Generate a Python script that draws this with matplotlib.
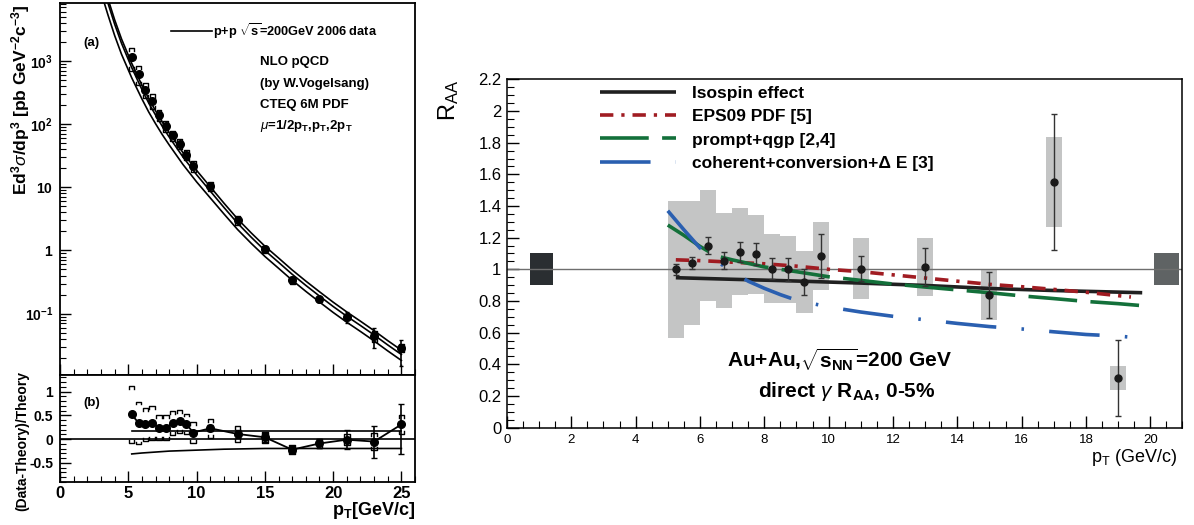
import matplotlib
matplotlib.use("Agg")
import matplotlib.pyplot as plt
import numpy as np
from matplotlib.ticker import MultipleLocator, FixedLocator, FixedFormatter, LogLocator, NullFormatter, FuncFormatter

plt.rcParams["font.family"] = ["Liberation Sans", "DejaVu Sans"]
plt.rcParams["mathtext.fontset"] = "custom"
plt.rcParams["mathtext.rm"] = "Liberation Sans"
plt.rcParams["mathtext.it"] = "Liberation Sans:italic"
plt.rcParams["mathtext.bf"] = "Liberation Sans:bold"

# ---------------- p+p cross section (left) ----------------
pp_pt = [5.25, 5.75, 6.25, 6.75, 7.25, 7.75, 8.25, 8.75, 9.25, 9.75, 11, 13, 15, 17, 19, 21, 23, 25]
pp_xsec = [1160, 625, 350, 233, 139, 94, 66.5, 49, 32.7, 21.5, 10.3, 3.0, 1.04, 0.34, 0.17, 0.089, 0.044, 0.029]
pp_ratio = [0.52, 0.34, 0.31, 0.34, 0.24, 0.24, 0.34, 0.38, 0.32, 0.14, 0.23, 0.11, 0.04, -0.22, -0.09, -0.01, -0.05, 0.31]
ratio_err_hi = [0.03, 0.03, 0.03, 0.03, 0.03, 0.03, 0.03, 0.03, 0.03, 0.04, 0.06, 0.08, 0.1, 0.08, 0.09, 0.2, 0.33, 0.42]
ratio_err_lo = [0.03, 0.03, 0.03, 0.03, 0.03, 0.03, 0.03, 0.03, 0.03, 0.04, 0.06, 0.08, 0.1, 0.08, 0.09, 0.2, 0.34, 0.63]
ratio_sys = [0.6, 0.45, 0.35, 0.355, 0.26, 0.26, 0.245, 0.24, 0.22, 0.22, 0.2, 0.165, 0.12, 0.1, 0.09, 0.12, 0.18, 0.2]

nlo_pt = [3.0, 3.5, 4.0, 4.5, 5.25, 6.0, 6.5, 7.0, 7.5, 8.0, 9.0, 10, 11, 12, 13, 14, 15,
          16, 17, 18, 19, 20, 21, 22, 23, 24, 25]
nlo_mid = [19000, 8300, 3800, 1900, 780, 350, 214, 138, 91, 62, 30.2, 15.8, 8.7, 4.8, 2.7, 1.62, 1.0,
           0.65, 0.42, 0.28, 0.19, 0.13, 0.091, 0.065, 0.046, 0.032, 0.0226]
nlo_hi_rel = [0.17] * 27
nlo_lo_rel = [-0.36, -0.35, -0.34, -0.33, -0.31, -0.29, -0.28, -0.27, -0.26, -0.25, -0.24, -0.23, -0.22,
              -0.21, -0.205, -0.2, -0.195, -0.195, -0.195, -0.195, -0.195, -0.195, -0.195, -0.195,
              -0.195, -0.195, -0.195]

# ---------------- Au+Au R_AA (right) ----------------
raa_pt = [5.25, 5.75, 6.25, 6.75, 7.25, 7.75, 8.25, 8.75, 9.25, 9.75, 11, 13, 15, 17, 19]
raa = [1.0, 1.04, 1.15, 1.055, 1.11, 1.095, 1.005, 1.0, 0.92, 1.085, 1.005, 1.015, 0.84, 1.55, 0.315]
raa_stat = [0.036, 0.04, 0.052, 0.053, 0.065, 0.069, 0.066, 0.073, 0.08, 0.14, 0.08, 0.12, 0.145, 0.43, 0.24]
raa_sys = [0.435, 0.39, 0.35, 0.30, 0.275, 0.25, 0.22, 0.21, 0.195, 0.215, 0.195, 0.185, 0.158, 0.285, 0.075]

iso_pt = [5.25, 7, 9, 11, 13, 15, 17, 19.75]
iso = [0.947, 0.937, 0.926, 0.913, 0.898, 0.879, 0.866, 0.852]
eps_pt = [5.25, 6, 7, 8, 9, 10, 11, 12, 13, 14, 15, 16, 17, 18, 19.4]
eps = [1.06, 1.055, 1.045, 1.035, 1.02, 1.0, 0.985, 0.965, 0.945, 0.925, 0.905, 0.89, 0.873, 0.855, 0.825]
qgp_pt = [5.0, 5.5, 6.0, 6.25, 6.6, 7, 8, 9, 10, 11, 12, 13, 14, 15, 16, 17, 18, 19, 20]
qgp = [1.28, 1.215, 1.145, 1.115, 1.08, 1.06, 1.015, 0.985, 0.953, 0.93, 0.907, 0.888, 0.87, 0.852,
       0.832, 0.815, 0.797, 0.783, 0.766]
coh_pt = [5.0, 5.5, 6.0, 6.5, 7.0, 7.5, 8.0, 8.5, 9.0, 10, 11, 12, 13, 14, 15, 16, 17, 18, 19, 20]
coh = [1.37, 1.25, 1.135, 1.055, 0.985, 0.925, 0.88, 0.84, 0.805, 0.762, 0.73, 0.703, 0.681, 0.658,
       0.638, 0.623, 0.605, 0.588, 0.578, 0.56]
norm_pt = [1.07, 20.5]
norm_width = [0.7, 0.78]
norm_err = [0.1, 0.1]
norm_colors = ["#2a2e31", "#5f6364"]


def brackets(x, y, w, leg):
    xs, ys = [], []
    for xi, yi, li in zip(x, y, leg):
        xs += [xi - w, xi - w, xi + w, xi + w, np.nan]
        ys += [yi + li, yi, yi, yi + li, np.nan]
    return xs, ys


fig = plt.figure(figsize=(11.94, 5.25), dpi=100)
ax_a = fig.add_axes([0.0503, 0.2857, 0.2973, 0.7078])
ax_b = fig.add_axes([0.0503, 0.0819, 0.2973, 0.2038])
ax_r = fig.add_axes([0.4246, 0.1857, 0.5657, 0.6629])

pt = np.array(pp_pt)
xs = np.array(pp_xsec)
r = np.array(pp_ratio)
rel = 1 + r
npt = np.array(nlo_pt)
mid = np.array(nlo_mid)

# ---- panel (a)
th_lines = []
for rr in [nlo_hi_rel, [0] * len(nlo_pt), nlo_lo_rel]:
    ln, = ax_a.plot(npt, mid * (1 + np.array(rr)), color="black", lw=1.2)
    th_lines.append(ln)
ax_a.errorbar(pt, xs, yerr=[xs * np.array(ratio_err_lo) / rel, xs * np.array(ratio_err_hi) / rel],
              fmt="o", color="black", ms=5.5, elinewidth=1.2, capsize=1.5, zorder=5)
sys_rel = np.array(ratio_sys) / rel
bx, by = brackets(pt, xs * (1 + sys_rel), 0.18, -xs * (1 + sys_rel) * 0.12)
ax_a.plot(bx, by, color="black", lw=1.0)
bx, by = brackets(pt, xs * (1 - sys_rel), 0.18, xs * (1 - sys_rel) * 0.12)
ax_a.plot(bx, by, color="black", lw=1.0)

ax_a.set_yscale("log")
ax_a.set_xlim(0, 26)
ax_a.set_ylim(0.0107, 8100)
ax_a.yaxis.set_major_locator(FixedLocator([0.1, 1, 10, 100, 1000]))
ax_a.yaxis.set_major_formatter(FixedFormatter([r"$\mathbf{10^{-1}}$", r"$\mathbf{1}$", r"$\mathbf{10}$",
                                               r"$\mathbf{10^{2}}$", r"$\mathbf{10^{3}}$"]))
ax_a.yaxis.set_minor_locator(LogLocator(base=10, subs=np.arange(2, 10)))
ax_a.yaxis.set_minor_formatter(NullFormatter())
ax_a.xaxis.set_major_locator(MultipleLocator(5))
ax_a.xaxis.set_minor_locator(MultipleLocator(1))
ax_a.tick_params(which="both", direction="in", top=False, right=False, labelbottom=False)
ax_a.tick_params(which="major", length=8, width=1, labelsize=10, pad=5)
ax_a.tick_params(which="minor", length=4, width=0.8)
ax_a.legend([th_lines[1]], [r"p+p $\sqrt{\mathbf{s}}$=200GeV 2006 data"], loc="center left",
            bbox_to_anchor=(0.313, 0.926), frameon=False, handlelength=3.2, handletextpad=0.1,
            borderpad=0, borderaxespad=0, prop={"weight": "bold", "size": 9.2})
ax_a.text(0.066, 0.893, "(a)", transform=ax_a.transAxes, fontsize=9.5, fontweight="bold", va="center")
for i, s in enumerate(["NLO pQCD", "(by W.Vogelsang)", "CTEQ 6M PDF",
                       r"$\mu$=1/2p$_{\mathbf{T}}$,p$_{\mathbf{T}}$,2p$_{\mathbf{T}}$"]):
    ax_a.text(0.563, 0.841 - 0.057 * i, s, transform=ax_a.transAxes, fontsize=9.5,
              fontweight="bold", va="center")
ax_a.text(-0.11, 0.996, r"Ed$^{\mathbf{3}}\sigma$/dp$^{\mathbf{3}}$ [pb GeV$^{\mathbf{-2}}$c$^{\mathbf{-3}}$]",
          transform=ax_a.transAxes, rotation=90, ha="center", va="top", fontsize=12.5, fontweight="bold")

# ---- panel (b)
ax_b.axhline(0, color="black", lw=1.2)
mb = npt >= 5.25
ax_b.plot(npt[mb], np.array(nlo_hi_rel)[mb], color="black", lw=1.2)
ax_b.plot(npt[mb], np.array(nlo_lo_rel)[mb], color="black", lw=1.2)
ax_b.plot(pt, r, color="black", lw=1.3)
ax_b.errorbar(pt, r, yerr=[ratio_err_lo, ratio_err_hi], fmt="o", color="black", ms=5.5,
              elinewidth=1.2, capsize=2.5, zorder=5)
bx, by = brackets(pt, r + np.array(ratio_sys), 0.2, [-0.06] * len(pt))
ax_b.plot(bx, by, color="black", lw=1.0)
bx, by = brackets(pt, r - np.array(ratio_sys), 0.2, [0.06] * len(pt))
ax_b.plot(bx, by, color="black", lw=1.0)
ax_b.set_xlim(0, 26)
ax_b.set_ylim(-0.9, 1.35)
ax_b.xaxis.set_major_locator(MultipleLocator(5))
ax_b.xaxis.set_minor_locator(MultipleLocator(1))
ax_b.yaxis.set_major_locator(FixedLocator([-0.5, 0, 0.5, 1]))
ax_b.yaxis.set_minor_locator(MultipleLocator(0.1))
ax_b.yaxis.set_major_formatter(FuncFormatter(lambda v, p: "%g" % v))
ax_b.tick_params(which="both", direction="in", top=False, right=False)
ax_b.tick_params(which="major", length=8, width=1)
ax_b.tick_params(which="minor", length=4, width=0.8)
ax_b.tick_params(axis="x", labelsize=12, pad=3)
ax_b.tick_params(axis="y", labelsize=10, pad=5)
for lab in ax_b.get_xticklabels() + ax_b.get_yticklabels():
    lab.set_fontweight("bold")
ax_b.text(0.066, 0.74, "(b)", transform=ax_b.transAxes, fontsize=9.5, fontweight="bold", va="center")
ax_b.text(-0.107, 0.38, "(Data-Theory)/Theory", transform=ax_b.transAxes, rotation=90,
          ha="center", va="center", fontsize=10, fontweight="bold")
ax_b.text(1.0, -0.165, r"p$_{\mathbf{T}}$[GeV/c]", transform=ax_b.transAxes, ha="right", va="top",
          fontsize=13, fontweight="bold")
for a in (ax_a, ax_b):
    for sp in a.spines.values():
        sp.set_linewidth(1.3)

# ---- right panel R_AA
rp = np.array(raa_pt)
rv = np.array(raa)
rs = np.array(raa_sys)
ax_r.bar(rp, 2 * rs, bottom=rv - rs, width=0.5, color="#c4c5c5", lw=0, zorder=1)
for xp, wd, er, c in zip(norm_pt, norm_width, norm_err, norm_colors):
    ax_r.bar(xp, 2 * er, bottom=1 - er, width=wd, color=c, lw=0, zorder=1)
ax_r.axhline(1, color="#6e6e6e", lw=1.0, zorder=2)
l_iso, = ax_r.plot(iso_pt, iso, color="#202020", lw=2.6, zorder=3, solid_capstyle="butt")
l_eps, = ax_r.plot(eps_pt, eps, color="#a01c22", lw=2.6, zorder=3, ls=(0, (3.7, 2.2, 0.9, 2.2)))
l_qgp, = ax_r.plot(qgp_pt, qgp, color="#13703a", lw=2.6, zorder=3, ls=(0, (13.5, 3.7)))
l_coh, = ax_r.plot(coh_pt, coh, color="#2a5fb0", lw=2.6, zorder=3, ls=(0, (14, 7, 0.7, 7)))
ax_r.errorbar(rp, rv, yerr=raa_stat, fmt="o", color="#1a1a1a", ms=5, elinewidth=1.0, capsize=2.5,
              capthick=1.0, ecolor="#333333", zorder=5)
ax_r.legend([l_iso, l_eps, l_qgp, l_coh],
            ["Isospin effect", "EPS09 PDF [5]", "prompt+qgp [2,4]", "coherent+conversion+\u0394 E [3]"],
            loc="upper left", bbox_to_anchor=(0.1377, 0.981), frameon=False, handlelength=4.37,
            handletextpad=0.92, labelspacing=0.46, borderpad=0, borderaxespad=0,
            prop={"weight": "bold", "size": 12.5})
ax_r.text(10.35, 0.38, r"Au+Au,$\sqrt{\mathbf{s}_{\mathbf{NN}}}$=200 GeV", ha="center", va="baseline",
          fontsize=15, fontweight="bold")
ax_r.text(10.57, 0.193, r"direct $\gamma$ R$_{\mathbf{AA}}$, 0-5%", ha="center", va="baseline",
          fontsize=15, fontweight="bold")
ax_r.set_xlim(0, 21)
ax_r.set_ylim(0, 2.2)
ax_r.xaxis.set_major_locator(MultipleLocator(2))
ax_r.xaxis.set_minor_locator(MultipleLocator(0.5))
ax_r.yaxis.set_major_locator(MultipleLocator(0.2))
ax_r.yaxis.set_minor_locator(MultipleLocator(0.05))
ax_r.yaxis.set_major_formatter(FuncFormatter(lambda v, p: "%g" % round(v, 2)))
ax_r.xaxis.set_major_formatter(FuncFormatter(lambda v, p: "%g" % round(v, 2)))
ax_r.tick_params(which="both", direction="in", top=False, right=False)
ax_r.tick_params(which="major", length=8.6, width=1)
ax_r.tick_params(which="minor", length=4.7, width=0.8)
ax_r.tick_params(axis="y", labelsize=12, pad=4)
ax_r.tick_params(axis="x", labelsize=9.5, pad=5)
for sp in ax_r.spines.values():
    sp.set_linewidth(1.1)
ax_r.text(-0.086, 1.0, r"R$_{\mathrm{AA}}$", transform=ax_r.transAxes, rotation=90, ha="center",
          va="top", fontsize=17)
ax_r.text(0.993, -0.056, r"p$_{\mathrm{T}}$ (GeV/c)", transform=ax_r.transAxes, ha="right", va="top",
          fontsize=13)

fig.savefig("out.png", dpi=100)
